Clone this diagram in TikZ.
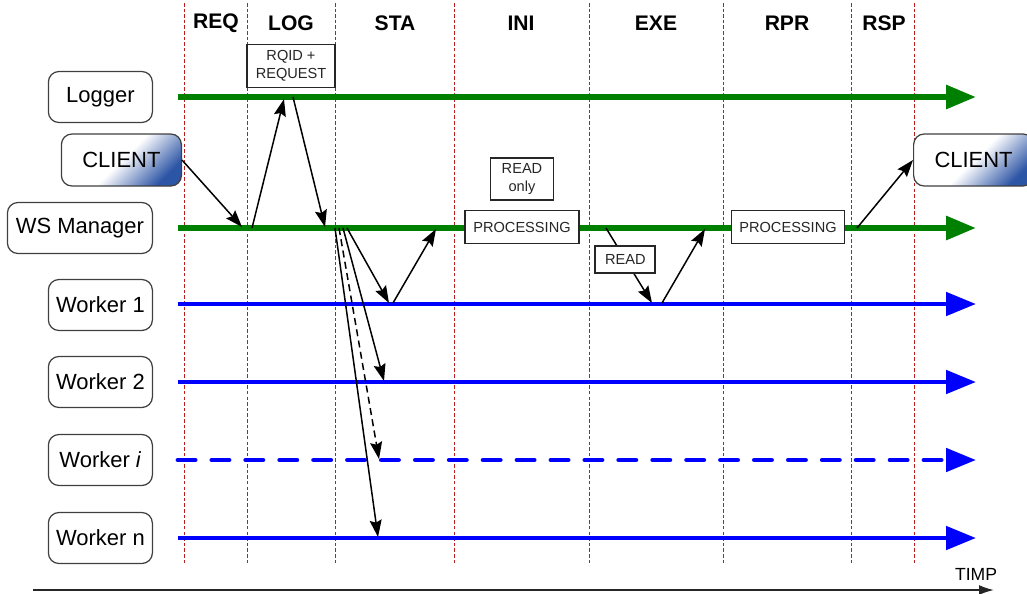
\documentclass[tikz,border=0pt]{standalone}
\usepackage{fontspec}
\setmainfont{Liberation Sans}
\usetikzlibrary{arrows.meta, positioning}
\definecolor{lifegreen}{RGB}{0,128,0}
\definecolor{lifeblue}{RGB}{0,0,255}
\definecolor{phasered}{RGB}{185,30,30}
\definecolor{clientblue}{RGB}{45,85,165}

\begin{document}
\begin{tikzpicture}[
  x=0.02cm, y=-0.02cm,
  actor/.style={rectangle, rounded corners=6pt, draw=black!75, line width=0.7pt,
                minimum width=2.08cm, minimum height=1.02cm, anchor=east,
                font=\fontsize{12.5}{14}\selectfont},
  client/.style={actor, top color=white, bottom color=clientblue, middle color=white,
                 shading angle=45, minimum width=2.4cm, minimum height=1.04cm},
  phase/.style={font=\bfseries\fontsize{12}{14}\selectfont},
  tag/.style={rectangle, draw=black!85, line width=1pt, fill=white, align=center,
              inner sep=1pt, text=black!85, font=\fontsize{8.3}{10}\selectfont},
  border/.style={phasered, dash pattern=on 2pt off 1.2pt, line width=0.55pt},
  greenline/.style={lifegreen, line width=3.4pt, -{Triangle[length=0.6cm, width=0.46cm]}},
  blueline/.style={lifeblue, line width=2.8pt, -{Triangle[length=0.6cm, width=0.46cm]}},
  msg/.style={-{Stealth[length=0.34cm, width=0.24cm, inset=0.05cm]}, line width=0.85pt}
]
  \useasboundingbox (0,0) rectangle (1027,593);

  % phase borders
  \draw[border] (184,3) -- (184,563);
  \draw[border] (247,3) -- (247,563);
  \draw[border] (335,3) -- (335,563);
  \draw[border] (454,3) -- (454,563);
  \draw[border] (589,3) -- (589,563);
  \draw[border] (723,3) -- (723,563);
  \draw[border] (851,3) -- (851,563);
  \draw[border] (914,3) -- (914,563);

  % phase names
  \node[phase] (req) at (216,23) {REQ};
  \node[phase] (log) at (291,23) {LOG};
  \node[phase] (sta) at (395,23) {STA};
  \node[phase] (ini) at (521,23) {INI};
  \node[phase] (exe) at (656,23) {EXE};
  \node[phase] (rpr) at (787,23) {RPR};
  \node[phase] (rsp) at (884,23) {RSP};

  % actors
  \node[actor] (logger) at (153,97) {Logger};
  \node[client] (client) at (182,160) {CLIENT};
  \node[actor, minimum width=2.9cm] (wsm) at (153,228) {WS Manager};
  \node[actor] (wk1) at (153,305) {Worker 1};
  \node[actor] (wk2) at (153,382) {Worker 2};
  \node[actor] (wki) at (153,460) {Worker \textit{i}};
  \node[actor] (wkn) at (153,538) {Worker n};
  \node[client, anchor=west] (clientout) at (913,160) {CLIENT};

  % life lines
  \coordinate (lg-s) at (178,97);  \coordinate (lg-e) at (976,97);
  \coordinate (ws-s) at (178,228); \coordinate (ws-e) at (976,228);
  \coordinate (w1-s) at (178,304); \coordinate (w1-e) at (976,304);
  \coordinate (w2-s) at (178,382); \coordinate (w2-e) at (976,382);
  \coordinate (wi-s) at (178,460); \coordinate (wi-e) at (976,460);
  \coordinate (wn-s) at (178,538); \coordinate (wn-e) at (976,538);
  \draw[greenline] (lg-s) -- (lg-e);
  \draw[greenline] (ws-s) -- (ws-e);
  \draw[blueline] (w1-s) -- (w1-e);
  \draw[blueline] (w2-s) -- (w2-e);
  \draw[blueline, line cap=round, dash pattern=on 9.7pt off 9.6pt] (wi-s) -- (wi-e);
  \draw[blueline] (wn-s) -- (wn-e);

  % boxes
  \node[tag, minimum width=1.76cm, minimum height=0.86cm] (rqid) at (291,66) {RQID +\\REQUEST};
  \node[tag, minimum width=2.28cm, minimum height=0.66cm] (proc1) at (522,227) {PROCESSING};
  \node[tag, minimum width=1.26cm, minimum height=0.84cm, above=0.18cm of proc1] (readonly) {READ\\only};
  \node[tag, minimum width=2.26cm, minimum height=0.66cm] (proc2) at (788,227) {PROCESSING};

  % messages
  \coordinate (ws-in) at (242,227);
  \coordinate (ws-up) at (252,228);
  \coordinate (lg-in) at (284,99);
  \coordinate (lg-out) at (293,97);
  \coordinate (ws-back) at (325,227);
  \draw[msg] (client.east) -- (ws-in);
  \draw[msg] (ws-up) -- (lg-in);
  \draw[msg] (lg-out) -- (ws-back);

  \coordinate (fan1) at (347,228); \coordinate (w1-in) at (389,303);
  \coordinate (w1-out) at (393,303); \coordinate (ws-ack) at (436,229);
  \coordinate (fan2) at (343,228); \coordinate (w2-in) at (384,381);
  \coordinate (fani) at (339,228); \coordinate (wi-in) at (379,459);
  \coordinate (fann) at (335,228); \coordinate (wn-in) at (378,537);
  \draw[msg] (fan1) -- (w1-in);
  \draw[msg] (w1-out) -- (ws-ack);
  \draw[msg] (fan2) -- (w2-in);
  \draw[msg, dash pattern=on 4pt off 2.5pt] (fani) -- (wi-in);
  \draw[msg] (fann) -- (wn-in);

  \coordinate (ws-read) at (606,228); \coordinate (w1-read) at (652,303);
  \coordinate (w1-back) at (662,303); \coordinate (ws-done) at (705,229);
  \draw[msg] (ws-read) -- node[tag, pos=0.42, minimum width=1.2cm, minimum height=0.54cm] (read) {READ} (w1-read);
  \draw[msg] (w1-back) -- (ws-done);

  \coordinate (ws-resp) at (857,228);
  \draw[msg] (ws-resp) -- (clientout.west);

  % time axis
  \coordinate (axis-s) at (33,590);
  \coordinate (axis-e) at (994,590);
  \draw[-{Latex[length=0.3cm, width=0.2cm]}, line width=1pt, black!85] (axis-s) -- (axis-e);
  \node[font=\fontsize{10}{12}\selectfont] (timp) at (976,574) {TIMP};
\end{tikzpicture}
\end{document}
